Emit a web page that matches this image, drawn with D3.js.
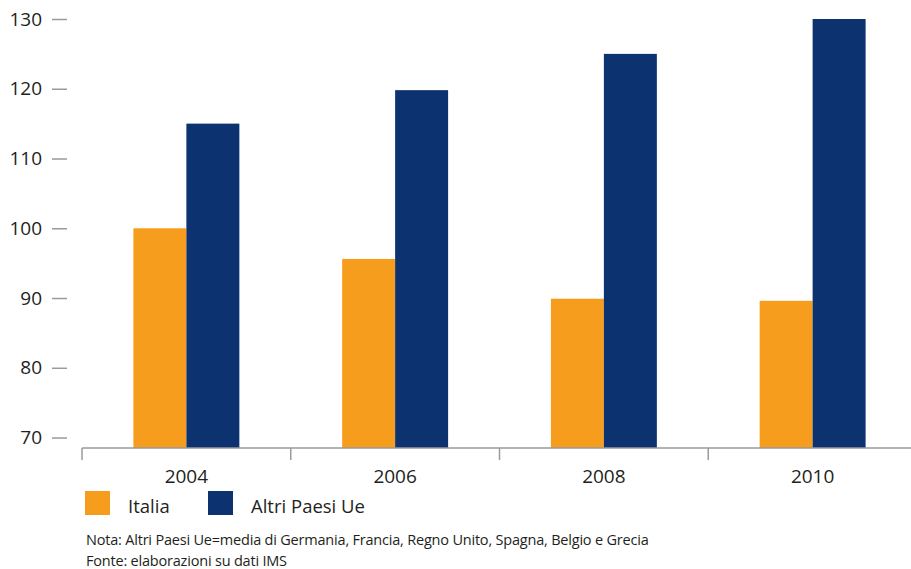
<!DOCTYPE html>
<html>
<head>
<meta charset="utf-8">
<script src="https://cdn.jsdelivr.net/npm/d3@7"></script>
<style>
  html, body { margin: 0; padding: 0; background: #fff; }
  svg { display: block; font-family: "Open Sans", "Noto Sans", sans-serif; }
</style>
</head>
<body>
<svg id="chart" width="911" height="569"></svg>
<script>
// Years on the x axis
const years = ["2004", "2006", "2008", "2010"];
// Series names
const seriesNames = ["Italia", "Altri Paesi Ue"];
// Index values per year
const italia = [100, 95.6, 89.9, 89.6];
const altriPaesi = [115, 119.8, 125, 130];
// Y axis tick values
const yTicks = [70, 80, 90, 100, 110, 120, 130];
// Footnotes
const notes = [
  "Nota: Altri Paesi Ue=media di Germania, Francia, Regno Unito, Spagna, Belgio e Grecia",
  "Fonte: elaborazioni su dati IMS"
];

const colors = ["#F69D1E", "#0C3370"];
const textColor = "#231F20";
const axisColor = "#9A9A9A";

const svg = d3.select("#chart");

const y = d3.scaleLinear().domain([68.5, 130]).range([448, 19]);
const x = d3.scaleBand().domain(years).range([82, 917]).paddingInner(0).paddingOuter(0);
const xs = d3.scaleBand().domain(seriesNames).range([0, x.bandwidth()]).paddingInner(0).paddingOuter(0.97);

const rows = years.map((yr, i) => ({ year: yr, values: [italia[i], altriPaesi[i]] }));

// Bars
const groups = svg.append("g").selectAll("g")
  .data(rows).join("g")
  .attr("transform", d => `translate(${x(d.year)},0)`);

groups.selectAll("rect")
  .data(d => d.values.map((v, k) => ({ name: seriesNames[k], value: v, k })))
  .join("rect")
  .attr("x", d => xs(d.name))
  .attr("width", xs.bandwidth())
  .attr("y", d => y(d.value))
  .attr("height", d => y.range()[0] - y(d.value))
  .attr("fill", d => colors[d.k]);

// Y axis: ticks and labels, no domain line
const yAxis = svg.append("g")
  .attr("transform", "translate(67,0)")
  .call(d3.axisLeft(y).tickValues(yTicks).tickSize(15).tickPadding(10).tickFormat(d3.format("d")));
yAxis.select(".domain").remove();
yAxis.selectAll(".tick line").attr("stroke", axisColor).attr("stroke-width", 1.5);
yAxis.selectAll(".tick text")
  .attr("fill", textColor)
  .style("font-size", "19px")
  .style("font-family", "'Open Sans', sans-serif");

// X axis baseline with separators between year groups
const xAxis = svg.append("g");
xAxis.append("line")
  .attr("x1", x.range()[0]).attr("x2", 911)
  .attr("y1", y.range()[0]).attr("y2", y.range()[0])
  .attr("stroke", axisColor).attr("stroke-width", 1.5);
xAxis.selectAll("line.sep")
  .data(years.concat(["end"]))
  .join("line")
  .attr("class", "sep")
  .attr("x1", (d, i) => x.range()[0] + i * x.step())
  .attr("x2", (d, i) => x.range()[0] + i * x.step())
  .attr("y1", y.range()[0]).attr("y2", y.range()[0] + 12)
  .attr("stroke", axisColor).attr("stroke-width", 1.5);
xAxis.selectAll("text")
  .data(years)
  .join("text")
  .attr("x", d => x(d) + x.bandwidth() / 2)
  .attr("y", 483)
  .attr("text-anchor", "middle")
  .attr("fill", textColor)
  .style("font-size", "19px")
  .text(d => d);

// Legend
const legend = svg.append("g");
const legendX = [85, 208];
seriesNames.forEach((name, k) => {
  legend.append("rect")
    .attr("x", legendX[k]).attr("y", 491)
    .attr("width", 25).attr("height", 24)
    .attr("fill", colors[k]);
  legend.append("text")
    .attr("x", legendX[k] + 43).attr("y", 513)
    .attr("fill", textColor)
    .style("font-size", "18.5px")
    .text(name);
});

// Footnotes
svg.append("g").selectAll("text")
  .data(notes)
  .join("text")
  .attr("x", 86)
  .attr("y", (d, i) => 545 + i * 21)
  .attr("fill", textColor)
  .style("font-size", "14.5px")
  .style("letter-spacing", "-0.2px")
  .text(d => d);
</script>
</body>
</html>
